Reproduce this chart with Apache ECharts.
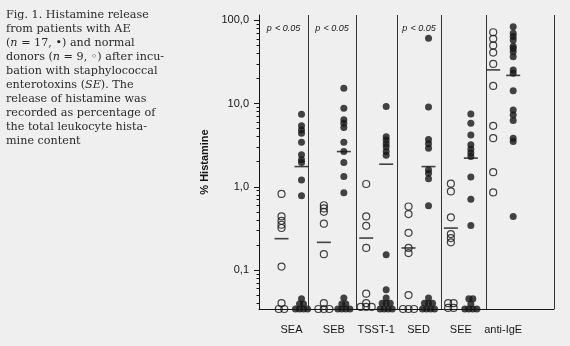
<!DOCTYPE html>
<html>
<head>
<meta charset="utf-8">
<script src="https://cdn.jsdelivr.net/npm/echarts@6/dist/echarts.min.js"></script>
<style>
html,body{margin:0;padding:0;background:#efefef;}
#c{width:570px;height:346px;}
</style>
</head>
<body>
<div id="c"></div>
<script>
// ---- data ----
const categories = ['SEA', 'SEB', 'TSST-1', 'SED', 'SEE', 'anti-IgE'];
// normal donors (open circles), % histamine release
const donorSEA  = [0.82, 0.44, 0.39, 0.35, 0.32, 0.11, 0.040, 0.034, 0.034];
const donorSEB  = [0.60, 0.55, 0.50, 0.36, 0.155, 0.040, 0.034, 0.034, 0.034];
const donorTSST = [1.08, 0.44, 0.34, 0.184, 0.052, 0.040, 0.036, 0.036, 0.036];
const donorSED  = [0.58, 0.47, 0.28, 0.184, 0.16, 0.050, 0.034, 0.034, 0.034];
const donorSEE  = [1.09, 0.88, 0.43, 0.27, 0.242, 0.215, 0.040, 0.040, 0.035, 0.035];
const donorIgE  = [72, 60, 50, 41, 30, 16.3, 5.4, 3.84, 1.5, 0.855];
// patients with AE (filled circles)
const patientSEA  = [7.46, 5.4, 4.83, 4.4, 3.44, 2.42, 2.11, 1.96, 1.21, 0.78, 0.045, 0.039, 0.039, 0.034, 0.034, 0.034, 0.034];
const patientSEB  = [15.3, 8.8, 6.4, 5.8, 5.15, 3.44, 2.65, 1.96, 1.33, 0.85, 0.046, 0.039, 0.039, 0.034, 0.034, 0.034, 0.034];
const patientTSST = [9.2, 4.0, 3.65, 3.3, 3.0, 2.65, 2.4, 0.153, 0.058, 0.046, 0.040, 0.040, 0.040, 0.034, 0.034, 0.034, 0.034];
const patientSED  = [61, 9.1, 3.7, 3.3, 2.9, 1.6, 1.45, 1.25, 0.59, 0.046, 0.040, 0.040, 0.040, 0.034, 0.034, 0.034, 0.034];
const patientSEE  = [7.5, 5.8, 4.2, 3.2, 2.83, 2.54, 2.31, 1.31, 0.71, 0.343, 0.045, 0.045, 0.039, 0.034, 0.034, 0.034, 0.034];
const patientIgE  = [84, 70, 64, 58, 49, 46, 42, 36.6, 25.4, 23.2, 14.3, 8.4, 7.3, 6.25, 3.84, 3.5, 0.44];
const donorMedians   = [0.238, 0.215, 0.242, 0.184, 0.319, 25.4];
const patientMedians = [1.75, 2.65, 1.87, 1.75, 2.21, 21.8];
const significant = [true, true, false, true, false, false];
const yTickValues = [0.1, 1, 10, 100];
const yMinorTicks = [0.04,0.05,0.06,0.07,0.08,0.09, 0.2,0.3,0.4,0.5,0.6,0.7,0.8,0.9, 2,3,4,5,6,7,8,9, 20,30,40,50,60,70,80,90];
const yAxisName = '% Histamine';
const captionLines = [
  'Fig. 1. Histamine release',
  'from patients with AE',
  '({i|n} = 17, •) and normal',
  'donors ({i|n} = 9, ◦) after incu-',
  'bation with staphylococcal',
  'enterotoxins ({i|SE}). The',
  'release of histamine was',
  'recorded as percentage of',
  'the total leukocyte hista-',
  'mine content'
];

// ---- layout (not data) ----
const panelEdges = [-0.768, 0.39, 1.525, 2.49, 3.53, 4.59, 6.2];
const groupOffset = 0.236;
const yMin = 0.034, yMax = 116;
const ink = '#161616';

const donorGroups = [donorSEA, donorSEB, donorTSST, donorSED, donorSEE, donorIgE];
const patientGroups = [patientSEA, patientSEB, patientTSST, patientSED, patientSEE, patientIgE];

// pile identical values side by side
function pile(groups, side, spacing) {
  const out = [];
  groups.forEach((vals, i) => {
    const counts = {};
    vals.forEach(v => counts[v] = (counts[v] || 0) + 1);
    const seen = {};
    vals.forEach(v => {
      const n = counts[v];
      const k = seen[v] || 0; seen[v] = k + 1;
      const off = (k - (n - 1) / 2) * spacing;
      out.push([i + side * groupOffset + off, v]);
    });
  });
  return out;
}

const donorPts = pile(donorGroups, -1, 0.13);
const patientPts = pile(patientGroups, 1, 0.095);
const medianPts = [];
donorMedians.forEach((m, i) => medianPts.push([i - groupOffset, m]));
patientMedians.forEach((m, i) => medianPts.push([i + groupOffset, m]));

const sigAreas = [];
significant.forEach((s, i) => {
  if (s) sigAreas.push([{ xAxis: panelEdges[i] }, { xAxis: panelEdges[i + 1] }]);
});

const chart = echarts.init(document.getElementById('c'), null, { renderer: 'canvas' });
const sans = 'Liberation Sans, Arial, sans-serif';
const serif = 'DejaVu Serif, serif';
chart.setOption({
  backgroundColor: '#efefef',
  animation: false,
  title: {
    text: captionLines.join('\n'),
    left: 6, top: 8, padding: 0,
    textStyle: {
      fontFamily: serif, fontSize: 11.2, fontWeight: 'normal',
      lineHeight: 14, color: '#2a2a2a',
      rich: { i: { fontFamily: serif, fontSize: 11.2, fontStyle: 'italic', lineHeight: 14, color: '#2a2a2a' } }
    }
  },
  grid: { left: 259, right: 16, top: 15, bottom: 37 },
  xAxis: {
    type: 'value', min: panelEdges[0], max: panelEdges[panelEdges.length - 1],
    axisLine: { show: true, onZero: false, lineStyle: { color: ink, width: 1 } },
    axisTick: { show: false },
    splitLine: { show: false },
    axisLabel: {
      customValues: categories.map((c, i) => i),
      formatter: v => categories[Math.round(v)],
      margin: 15, fontSize: 11, fontFamily: sans, color: ink
    }
  },
  yAxis: [{
    type: 'log', logBase: 10, min: yMin, max: yMax,
    name: yAxisName, nameLocation: 'middle', nameGap: 48, nameRotate: 90,
    nameTextStyle: { fontSize: 11, fontWeight: 'bold', fontFamily: sans, color: ink },
    axisLine: { show: true, onZero: false, lineStyle: { color: ink, width: 1 } },
    axisTick: { show: true, customValues: yTickValues, length: 5, lineStyle: { color: ink } },
    splitLine: { show: false },
    axisLabel: {
      customValues: yTickValues,
      formatter: v => Number(v).toFixed(1).replace('.', ','),
      margin: 10, fontSize: 11, fontFamily: sans, color: ink
    }
  }, {
    type: 'log', logBase: 10, min: yMin, max: yMax, position: 'left', offset: 0,
    axisLine: { show: false, onZero: false },
    axisTick: { show: true, customValues: yMinorTicks, length: 2.5, lineStyle: { color: ink } },
    splitLine: { show: false },
    axisLabel: { show: false }
  }],
  series: [{
    name: 'normal donors', type: 'scatter', data: donorPts, clip: false,
    symbol: 'circle', symbolSize: 7,
    itemStyle: { color: 'rgba(0,0,0,0)', borderColor: ink, borderWidth: 1.2 },
    z: 3
  }, {
    name: 'patients with AE', type: 'scatter', data: patientPts, clip: false,
    symbol: 'circle', symbolSize: 7,
    itemStyle: { color: ink },
    z: 3,
    markLine: {
      silent: true, symbol: ['none', 'none'],
      lineStyle: { color: '#333', width: 1, type: 'solid' },
      label: { show: false },
      data: panelEdges.slice(1).map(x => ({ xAxis: x }))
    },
    markArea: {
      silent: true,
      itemStyle: { color: 'rgba(0,0,0,0)' },
      label: {
        show: true, position: 'insideTop', distance: 7,
        formatter: '{p|p} {t|< 0.05}',
        rich: {
          p: { fontStyle: 'italic', fontSize: 9, fontFamily: sans, color: ink },
          t: { fontStyle: 'italic', fontSize: 9, fontFamily: sans, color: ink }
        }
      },
      data: sigAreas
    }
  }, {
    name: 'median', type: 'scatter', data: medianPts, clip: false,
    symbol: 'rect', symbolSize: [14, 1.6],
    itemStyle: { color: ink }, z: 4
  }]
});
</script>
</body>
</html>
